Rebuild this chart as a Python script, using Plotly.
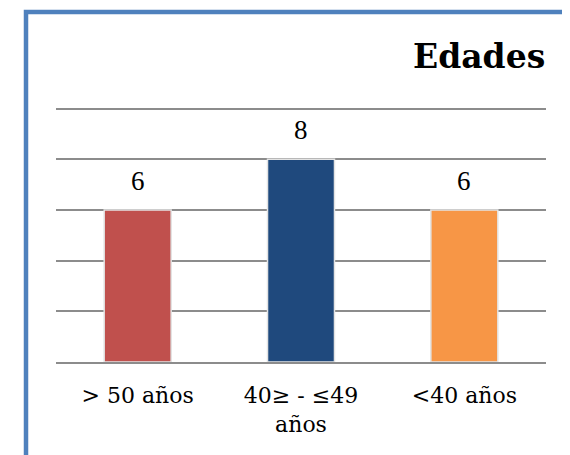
import plotly.graph_objects as go

categories = ["> 50 años", "40≥ - ≤49<br>años", "<40 años"]
values = [6, 8, 6]
colors = ["#C0504D", "#1F497D", "#F79646"]
gridvals = [2, 4, 6, 8, 10]

# page body has an 8px margin; compensate so the picture lands where intended
OFF = 8
YMAX = 10.3
W, H = 570, 455
L, R, B = 56 - OFF, 24 + OFF, 93 + OFF
T = int(round(109 - (YMAX - 10) * 25.3)) - OFF
pw, ph = W - L - R, H - T - B

def px(x):
    return (x - OFF - L) / pw

def py(y):
    return (H - B - (y - OFF)) / ph

fig = go.Figure()
fig.add_trace(go.Bar(
    x=categories, y=values,
    marker=dict(color=colors, line=dict(color="#E3E3E3", width=1.5)),
    width=0.41,
    cliponaxis=False,
))

annotations = [dict(
    x=c, y=v, text=str(v), xref="x", yref="y",
    yanchor="bottom", yshift=12, showarrow=False,
    font=dict(family="Liberation Serif", size=27, color="black"),
) for c, v in zip(categories, values)]

annotations.append(dict(
    text="<b>Edades</b>", xref="paper", yref="paper",
    x=px(547), y=py(57), xanchor="right", yanchor="middle",
    showarrow=False,
    font=dict(family="DejaVu Serif", size=33, color="black"),
))

fig.update_layout(
    width=W, height=H,
    margin=dict(l=L, r=R, t=T, b=B),
    paper_bgcolor="white", plot_bgcolor="white",
    showlegend=False,
    xaxis=dict(
        showgrid=False, showline=True, linecolor="#8C8C8C", linewidth=2,
        tickfont=dict(family="DejaVu Serif", size=22, color="black"),
        ticks="", ticklabelstandoff=13, fixedrange=True,
    ),
    yaxis=dict(
        range=[0, YMAX], tickvals=gridvals, showticklabels=False,
        showgrid=True, gridcolor="#8C8C8C", gridwidth=1.5,
        zeroline=False, fixedrange=True,
    ),
    annotations=annotations,
    shapes=[dict(
        type="rect", xref="paper", yref="paper",
        x0=px(26), x1=px(650), y0=py(12), y1=py(530),
        line=dict(color="#4F81BD", width=4.5), fillcolor="rgba(0,0,0,0)",
        layer="above",
    )],
)

fig.write_html("out.html")
